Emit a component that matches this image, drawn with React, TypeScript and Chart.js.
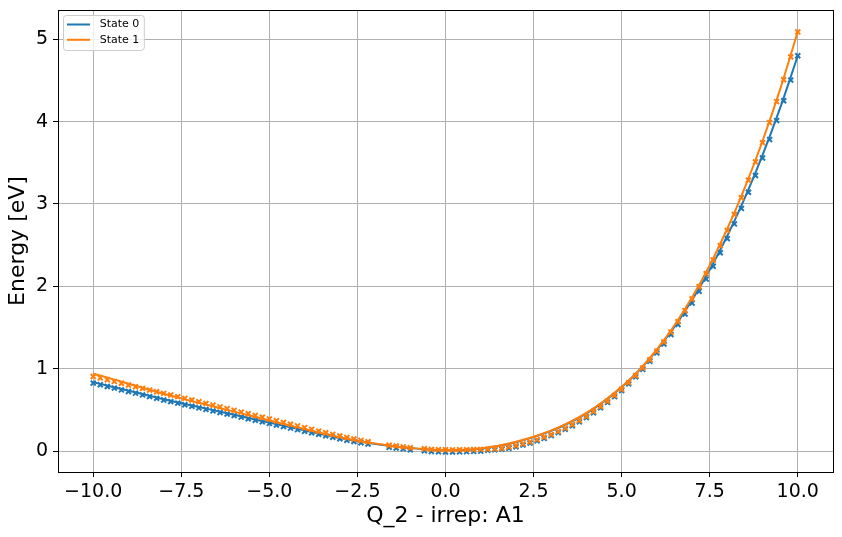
import { useEffect, useRef } from "react";
import { Chart, registerables } from "chart.js";

Chart.register(...registerables);

// Sampled points (markers), x positions
const markerX = [
  -10, -9.8, -9.6, -9.4, -9.2, -9, -8.8, -8.6, -8.4, -8.2,
  -8, -7.8, -7.6, -7.4, -7.2, -7, -6.8, -6.6, -6.4, -6.2,
  -6, -5.8, -5.6, -5.4, -5.2, -5, -4.8, -4.6, -4.4, -4.2,
  -4, -3.8, -3.6, -3.4, -3.2, -3, -2.8, -2.6, -2.4, -2.2,
  -2, -1.8, -1.6, -1.4, -1.2, -1, -0.8, -0.6, -0.4, -0.2,
  0,
  0.2, 0.4, 0.6, 0.8, 1, 1.2, 1.4, 1.6, 1.8, 2,
  2.2, 2.4, 2.6, 2.8, 3, 3.2, 3.4, 3.6, 3.8, 4,
  4.2, 4.4, 4.6, 4.8, 5, 5.2, 5.4, 5.6, 5.8, 6,
  6.2, 6.4, 6.6, 6.8, 7, 7.2, 7.4, 7.6, 7.8, 8,
  8.2, 8.4, 8.6, 8.8, 9, 9.2, 9.4, 9.6, 9.8, 10,
];

const state0Points = [
  0.825, 0.805, 0.783, 0.764, 0.742, 0.722, 0.703, 0.681, 0.661, 0.64,
  0.62, 0.6, 0.581, 0.562, 0.543, 0.524, 0.505, 0.487, 0.468, 0.449,
  0.43, 0.411, 0.392, 0.373, 0.354, 0.335, 0.316, 0.297, 0.278, 0.259,
  0.24, 0.222, 0.203, 0.185, 0.167, 0.149, 0.131, 0.115, 0.099, 0.084,
  null, null, 0.045, 0.036, 0.026, 0.015, null, 0.002, -0.006, -0.01,
  -0.012,
  -0.012, -0.01, -0.008, -0.005, -0.002, 0.008, 0.014, 0.022, 0.033, 0.051,
  0.072, 0.096, 0.123, 0.153, 0.186, 0.223, 0.263, 0.307, 0.355, 0.407,
  0.464, 0.525, 0.59, 0.66, 0.735, 0.815, 0.901, 0.992, 1.089, 1.191,
  1.3, 1.414, 1.536, 1.663, 1.798, 1.939, 2.088, 2.244, 2.408, 2.579,
  2.758, 2.946, 3.142, 3.346, 3.559, 3.782, 4.013, 4.254, 4.505, 4.8,
];

const state1Points = [
  0.905, 0.888, 0.866, 0.845, 0.823, 0.802, 0.781, 0.76, 0.74, 0.72,
  0.7, 0.68, 0.66, 0.64, 0.619, 0.598, 0.578, 0.557, 0.536, 0.515,
  0.494, 0.473, 0.452, 0.431, 0.41, 0.389, 0.368, 0.347, 0.326, 0.305,
  0.284, 0.263, 0.242, 0.222, 0.202, 0.183, 0.164, 0.146, 0.129, 0.112,
  null, null, 0.07, 0.062, 0.05, 0.04, null, 0.028, 0.02, 0.016,
  0.015,
  0.014, 0.015, 0.016, 0.018, 0.02, 0.022, 0.026, 0.034, 0.048, 0.066,
  0.087, 0.111, 0.138, 0.168, 0.201, 0.238, 0.278, 0.322, 0.37, 0.422,
  0.479, 0.54, 0.605, 0.675, 0.75, 0.831, 0.917, 1.009, 1.108, 1.213,
  1.325, 1.444, 1.571, 1.705, 1.846, 1.996, 2.154, 2.32, 2.495, 2.679,
  2.873, 3.076, 3.289, 3.511, 3.745, 3.988, 4.243, 4.509, 4.786, 5.09,
];

// Fitted curves
const fitX = [
  -10, -9.5, -9, -8.5, -8, -7.5, -7, -6.5, -6, -5.5,
  -5, -4.5, -4, -3.5, -3, -2.5, -2, -1.5, -1, -0.5,
  0,
  0.5, 1, 1.5, 2, 2.5, 3, 3.5, 4, 4.5, 5,
  5.5, 6, 6.5, 7, 7.5, 8, 8.5, 9, 9.5, 10,
];

const state0Fit = [
  0.835, 0.784, 0.732, 0.681, 0.629, 0.58, 0.534, 0.487, 0.44, 0.392,
  0.345, 0.297, 0.25, 0.203, 0.158, 0.118, 0.085, 0.058, 0.035, 0.018,
  0.008,
  0.012, 0.027, 0.06, 0.107, 0.168, 0.245, 0.34, 0.458, 0.603, 0.775,
  0.981, 1.226, 1.509, 1.833, 2.2, 2.614, 3.078, 3.594, 4.167, 4.8,
];

const state1Fit = [
  0.94, 0.879, 0.817, 0.757, 0.696, 0.639, 0.585, 0.531, 0.478, 0.424,
  0.371, 0.318, 0.267, 0.216, 0.167, 0.125, 0.09, 0.062, 0.038, 0.021,
  0.011,
  0.016, 0.031, 0.064, 0.112, 0.173, 0.25, 0.345, 0.463, 0.608, 0.78,
  0.983, 1.233, 1.527, 1.866, 2.256, 2.699, 3.201, 3.765, 4.395, 5.095,
];

const xTicks = [-10, -7.5, -5, -2.5, 0, 2.5, 5, 7.5, 10];
const xTickLabels = ["−10.0", "−7.5", "−5.0", "−2.5", "0.0", "2.5", "5.0", "7.5", "10.0"];
const yTicks = [0, 1, 2, 3, 4, 5];
const yTickLabels = ["0", "1", "2", "3", "4", "5"];
const seriesLabels = ["State 0", "State 1"];
const seriesColors = ["#1f77b4", "#ff7f0e"];
const xTitle = "Q_2 - irrep: A1";
const yTitle = "Energy [eV]";

const FONT = "DejaVu Sans";

const framePlugin = {
  id: "frame",
  afterDatasetsDraw(chart: any) {
    const { ctx, chartArea } = chart;
    const { left, top, right, bottom } = chartArea;
    ctx.save();
    ctx.strokeStyle = "#000";
    ctx.lineWidth = 1;
    ctx.strokeRect(left + 0.5, top + 0.5, right - left, bottom - top);
    ctx.restore();
  },
};

const legendPlugin = {
  id: "boxLegend",
  afterDraw(chart: any) {
    const { ctx, chartArea } = chart;
    ctx.save();
    ctx.font = `11px "${FONT}"`;
    const textW = Math.max(...seriesLabels.map((l) => ctx.measureText(l).width));
    const bx = chartArea.left + 5;
    const by = chartArea.top + 5;
    const bw = 36.7 + textW + 4.5;
    const bh = 35;
    ctx.beginPath();
    (ctx as any).roundRect(bx + 0.5, by + 0.5, bw, bh, 3);
    ctx.fillStyle = "rgba(255,255,255,0.8)";
    ctx.fill();
    ctx.strokeStyle = "#cccccc";
    ctx.lineWidth = 1;
    ctx.stroke();
    seriesLabels.forEach((label, i) => {
      const cy = by + 9.5 + i * 15.3;
      ctx.beginPath();
      ctx.moveTo(bx + 4, cy);
      ctx.lineTo(bx + 27, cy);
      ctx.strokeStyle = seriesColors[i];
      ctx.lineWidth = 2;
      ctx.stroke();
      ctx.fillStyle = "#000";
      ctx.textBaseline = "middle";
      ctx.textAlign = "left";
      ctx.fillText(label, bx + 36.7, cy);
    });
    ctx.restore();
  },
};

export default function App() {
  const ref = useRef<HTMLCanvasElement>(null);

  useEffect(() => {
    if (!ref.current) return;
    const pts = (ys: (number | null)[]) => markerX.map((x, i) => ({ x, y: ys[i] }));
    const fit = (ys: number[]) => fitX.map((x, i) => ({ x, y: ys[i] }));

    const chart = new Chart(ref.current, {
      type: "scatter",
      data: {
        datasets: [
          {
            label: seriesLabels[1] + " fit",
            data: fit(state1Fit),
            showLine: true,
            borderColor: seriesColors[1],
            backgroundColor: seriesColors[1],
            borderWidth: 2,
            pointRadius: 0,
            cubicInterpolationMode: "monotone",
            order: 0,
          },
          {
            label: seriesLabels[1],
            data: pts(state1Points) as any,
            showLine: false,
            pointStyle: "crossRot",
            pointRadius: 3.5,
            pointBorderWidth: 2,
            borderColor: seriesColors[1],
            backgroundColor: seriesColors[1],
            order: 1,
          },
          {
            label: seriesLabels[0] + " fit",
            data: fit(state0Fit),
            showLine: true,
            borderColor: seriesColors[0],
            backgroundColor: seriesColors[0],
            borderWidth: 2,
            pointRadius: 0,
            cubicInterpolationMode: "monotone",
            order: 2,
          },
          {
            label: seriesLabels[0],
            data: pts(state0Points) as any,
            showLine: false,
            pointStyle: "crossRot",
            pointRadius: 3.5,
            pointBorderWidth: 2,
            borderColor: seriesColors[0],
            backgroundColor: seriesColors[0],
            order: 3,
          },
        ],
      },
      options: {
        animation: false,
        responsive: false,
        events: [],
        layout: { padding: { top: 10, right: 9, left: 0, bottom: 0 } },
        plugins: { legend: { display: false }, tooltip: { enabled: false } },
        scales: {
          x: {
            type: "linear",
            min: -11,
            max: 11,
            afterBuildTicks: (s: any) => {
              s.ticks = xTicks.map((v) => ({ value: v }));
            },
            afterFit: (s: any) => {
              s.height = 65;
              s.paddingLeft = 0;
              s.paddingRight = 0;
              s.paddingTop = 0;
              s.paddingBottom = 0;
            },
            ticks: {
              autoSkip: false,
              maxRotation: 0,
              minRotation: 0,
              padding: 4,
              color: "#000",
              font: { family: FONT, size: 19 },
              callback: (v: any) => xTickLabels[xTicks.indexOf(Number(v))],
            },
            grid: { color: "#b0b0b0", lineWidth: 1, tickColor: "#000", tickLength: 5, tickWidth: 1 },
            border: { display: false },
            title: {
              display: true,
              text: xTitle,
              color: "#000",
              font: { family: FONT, size: 22 },
              padding: { top: 0, bottom: 8 },
            },
          },
          y: {
            type: "linear",
            min: -0.255,
            max: 5.356,
            afterBuildTicks: (s: any) => {
              s.ticks = yTicks.map((v) => ({ value: v }));
            },
            afterFit: (s: any) => {
              s.width = 58;
              s.paddingLeft = 0;
              s.paddingRight = 0;
              s.paddingTop = 0;
              s.paddingBottom = 0;
            },
            ticks: {
              autoSkip: false,
              padding: 5,
              color: "#000",
              font: { family: FONT, size: 19 },
              callback: (v: any) => yTickLabels[yTicks.indexOf(Number(v))],
            },
            grid: { color: "#b0b0b0", lineWidth: 1, tickColor: "#000", tickLength: 5, tickWidth: 1 },
            border: { display: false },
            title: {
              display: true,
              text: yTitle,
              color: "#000",
              font: { family: FONT, size: 22 },
              padding: { top: 5, bottom: 0 },
            },
          },
        },
      },
      plugins: [framePlugin, legendPlugin],
    });
    return () => chart.destroy();
  }, []);

  return (
    <div style={{ position: "absolute", left: 0, top: 0, width: 842, height: 537 }}>
      <canvas ref={ref} width={842} height={537} style={{ display: "block", width: 842, height: 537 }} />
    </div>
  );
}
